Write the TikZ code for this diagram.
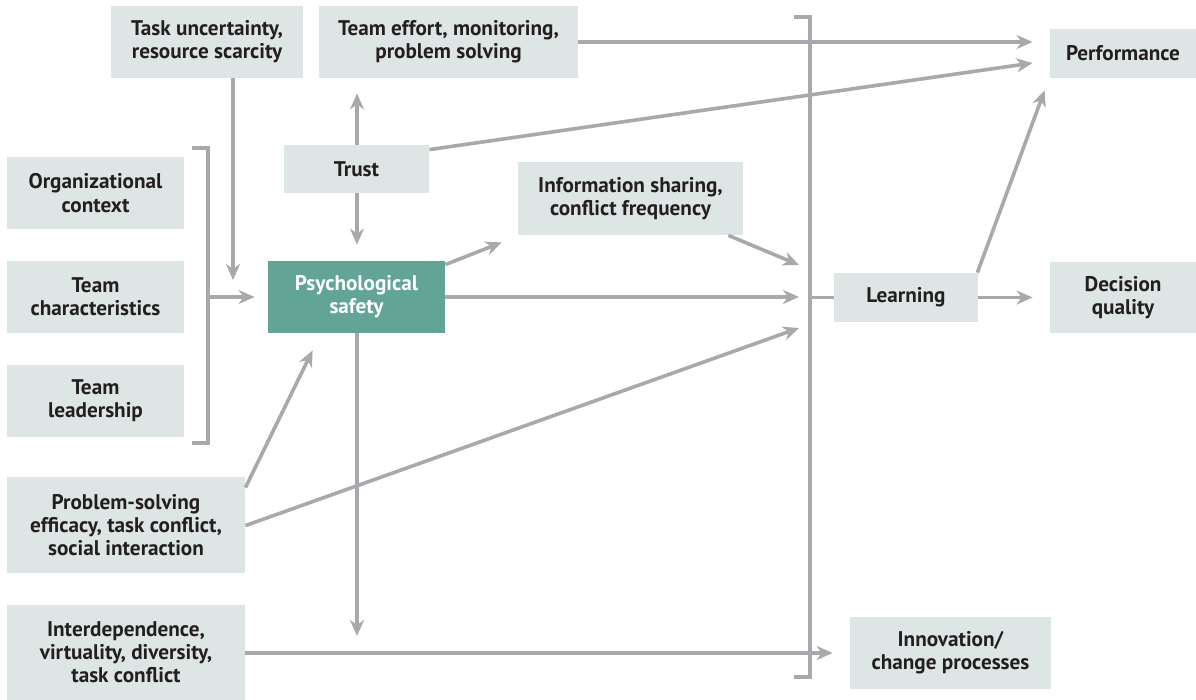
\documentclass[tikz,border=0pt]{standalone}
\usepackage{fontspec}
\setmainfont{PT Sans}
\usetikzlibrary{arrows.meta,calc}
\definecolor{boxfill}{HTML}{DEE6E5}
\definecolor{psyfill}{HTML}{62A596}
\definecolor{arrgray}{HTML}{A7A9AC}
\definecolor{txt}{HTML}{231F20}
\begin{document}
\begin{tikzpicture}[x=0.5pt,y=-0.5pt,
  box/.style={fill=boxfill, inner sep=0pt, align=center, text=txt,
    font=\fontsize{10.6}{11.6}\selectfont\bfseries},
  psybox/.style={box, fill=psyfill, text=white},
  conn/.style={draw=arrgray, line width=1.8pt},
  arr/.style={conn, -{Stealth[length=8pt,width=7pt,inset=2.5pt]}},
  sz/.style n args={2}{minimum width=#1*0.5pt, minimum height=#2*0.5pt}]
\useasboundingbox (0,0) rectangle (1196,700);
% nodes
\node[box, sz={192}{72}] (task) at (207,42) {Task uncertainty,\\resource scarcity};
\node[box, sz={259}{72}] (effort) at (448.5,42) {Team effort, monitoring,\\problem solving};
\node[box, sz={146}{49}] (perf) at (1123,53.5) {Performance};
\node[box, sz={145}{48}] (trust) at (356.5,169) {Trust};
\node[box, sz={177}{72}] (org) at (95.5,193) {Organizational\\context};
\node[box, sz={177}{72}] (teamchar) at (95.5,297) {Team\\characteristics};
\node[box, sz={177}{72}] (lead) at (95.5,401) {Team\\leadership};
\node[psybox, sz={177}{72}] (psych) at (356.5,297) {Psychological\\safety};
\node[box, sz={225}{73}] (info) at (630.5,198.5) {Information sharing,\\conflict frequency};
\node[box, sz={144}{49}] (learn) at (906,297.5) {Learning};
\node[box, sz={146}{71}] (dec) at (1123,297.5) {Decision\\quality};
\node[box, sz={238}{96}] (prob) at (126,525) {Problem-solving\\efficacy, task conflict,\\social interaction};
\node[box, sz={238}{95}] (inter) at (126,652.5) {Interdependence,\\virtuality, diversity,\\task conflict};
\node[box, sz={201}{72}] (innov) at (950.5,653) {Innovation/\\change processes};
% coordinates
\coordinate (lbT) at (208,148);
\coordinate (lbB) at (208,443);
\coordinate (lbM) at (208,297);
\coordinate (taskEnd) at (233,280);
\coordinate (psyEnd) at (357,636);
\coordinate (rbT) at (810,17);
\coordinate (rbB) at (810,677);
\coordinate (rbM) at (810,297.5);
\coordinate (inA) at (799,265);
\coordinate (inB) at (799,297);
\coordinate (inC) at (799,328);
% brackets
\draw[conn] ($(lbT)+(-16,0)$) -- (lbT) -- (lbB) -- ($(lbB)+(-16,0)$);
\draw[conn] ($(rbT)+(-16,0)$) -- (rbT) -- (rbB) -- ($(rbB)+(-16,0)$);
% connectors
\draw[arr] (task.south -| taskEnd) -- (taskEnd);
\draw[arr, shorten >=6.5pt] (lbM) -- (psych.west);
\draw[arr, shorten >=7.5pt] (trust.north -| 357,0) -- (effort.south -| 357,0);
\draw[arr, shorten >=8pt] (trust.south -| 357,0) -- (psych.north -| 357,0);
\draw[arr] (psych.south -| psyEnd) -- (psyEnd);
\draw[arr] ($(psych.north east)+(0,4)$) -- ($(info.south west)+(-16,7)$);
\draw[arr] ($(info.south east)+(-15,0)$) -- (inA);
\draw[arr] (psych.east |- inB) -- (inB);
\draw[arr] ($(prob.north east)+(0,49)$) -- (inC);
\draw[arr] ($(prob.north east)+(0,11)$) -- ($(psych.south west)+(45,17)$);
\draw[arr, shorten >=8.5pt] (inter.east |- innov.west) -- (innov.west);
\draw[conn] (rbM) -- (learn.west);
\draw[arr, shorten >=8.5pt] (learn.east) -- (dec.west);
\draw[arr] ($(learn.north east)+(-1,0)$) -- ($(perf.south west)+(-5,12)$);
\draw[arr, shorten >=8.5pt] (effort.east) -- (effort.east -| perf.west);
\draw[arr] ($(trust.north east)+(0,5)$) -- ($(perf.west)+(-17,9.5)$);
\end{tikzpicture}
\end{document}
